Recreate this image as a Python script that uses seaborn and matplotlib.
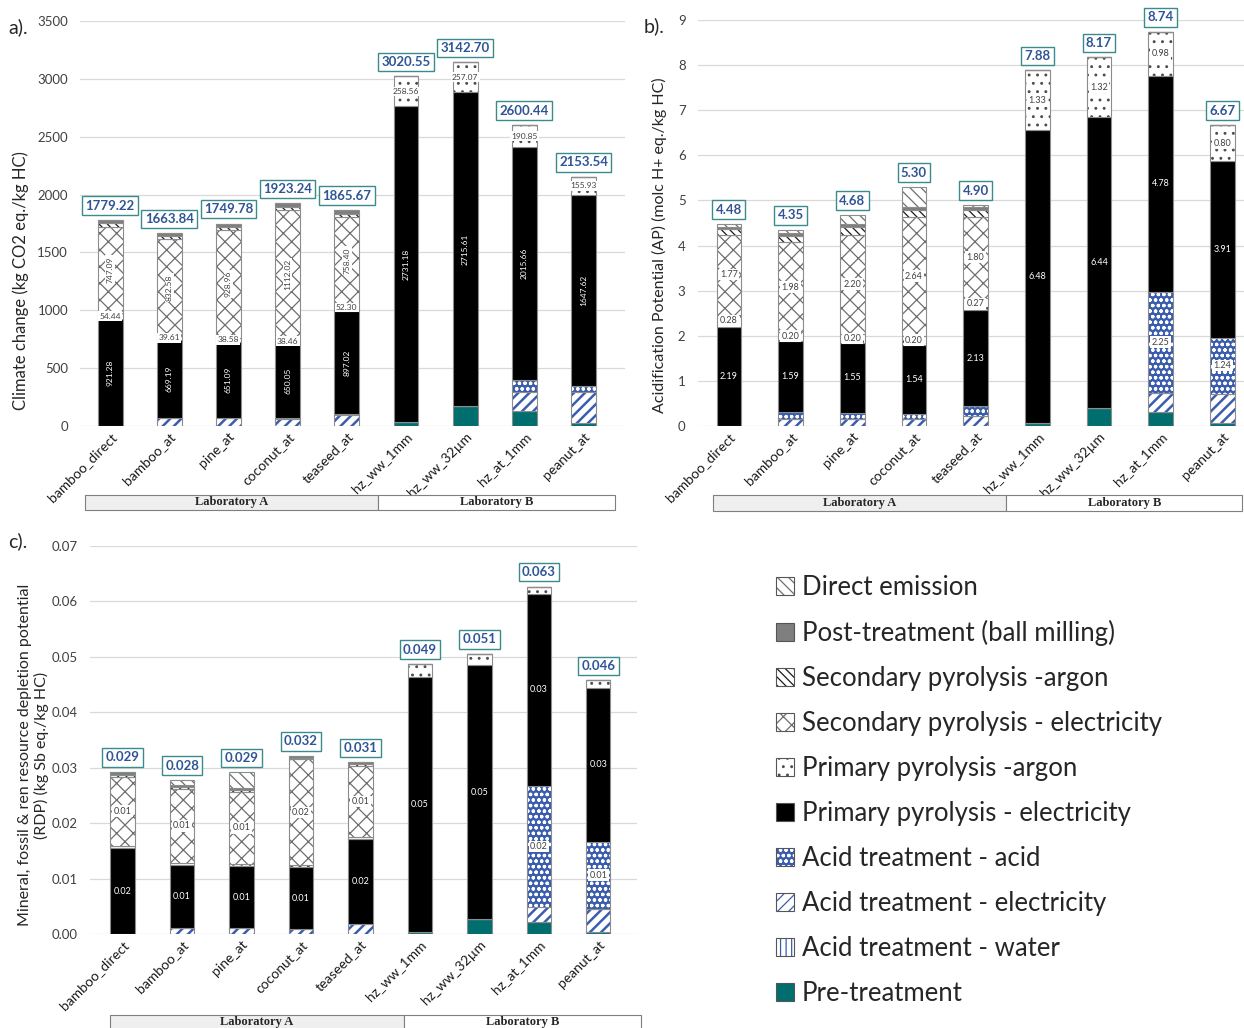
import numpy as np
import matplotlib
matplotlib.use("Agg")
import matplotlib.pyplot as plt
import matplotlib.transforms as mtransforms
from matplotlib.patches import Patch, Rectangle
import seaborn as sns

# ---------------------------------------------------------------- data
samples = ["bamboo_direct", "bamboo_at", "pine_at", "coconut_at", "teaseed_at",
           "hz_ww_1mm", "hz_ww_32µm", "hz_at_1mm", "peanut_at"]

# life-cycle stages, bottom of the stack first
stage_keys = ["pre", "water", "acid_elec", "acid", "prim_elec", "prim_argon",
              "sec_elec", "sec_argon", "post", "direct"]
stage_names = ["Pre-treatment", "Acid treatment - water", "Acid treatment - electricity",
               "Acid treatment - acid", "Primary pyrolysis - electricity",
               "Primary pyrolysis -argon", "Secondary pyrolysis - electricity",
               "Secondary pyrolysis -argon", "Post-treatment (ball milling)",
               "Direct emission"]

# a) climate change (kg CO2 eq./kg HC)
cc_pre        = [0, 0, 0, 0, 0, 30.81, 170.02, 132.00, 30.00]
cc_water      = [0, 0, 0, 0, 0, 0, 0, 0, 0]
cc_acid_elec  = [0, 68.00, 68.00, 60.00, 95.00, 0, 0, 166.00, 268.00]
cc_acid       = [0, 5.00, 5.00, 5.00, 5.00, 0, 0, 95.93, 51.99]
cc_prim_elec  = [921.28, 669.19, 651.09, 650.05, 897.02, 2731.18, 2715.61, 2015.66, 1647.62]
cc_prim_argon = [54.44, 39.61, 38.58, 38.46, 52.30, 258.56, 257.07, 190.85, 155.93]
cc_sec_elec   = [747.09, 832.58, 928.96, 1112.02, 758.40, 0, 0, 0, 0]
cc_sec_argon  = [30.00, 28.00, 30.00, 30.00, 25.00, 0, 0, 0, 0]
cc_post       = [26.41, 21.46, 28.15, 27.71, 32.95, 0, 0, 0, 0]
cc_direct     = [0, 0, 0, 0, 0, 0, 0, 0, 0]

# b) acidification potential (molc H+ eq./kg HC)
ap_pre        = [0, 0, 0, 0, 0, 0.07, 0.41, 0.32, 0.07]
ap_water      = [0, 0, 0, 0, 0, 0, 0, 0, 0]
ap_acid_elec  = [0, 0.15, 0.15, 0.15, 0.22, 0, 0, 0.41, 0.65]
ap_acid       = [0, 0.15, 0.14, 0.11, 0.22, 0, 0, 2.25, 1.24]
ap_prim_elec  = [2.19, 1.59, 1.55, 1.54, 2.13, 6.48, 6.44, 4.78, 3.91]
ap_prim_argon = [0.28, 0.20, 0.20, 0.20, 0.27, 1.33, 1.32, 0.98, 0.80]
ap_sec_elec   = [1.77, 1.98, 2.20, 2.64, 1.80, 0, 0, 0, 0]
ap_sec_argon  = [0.13, 0.14, 0.18, 0.15, 0.15, 0, 0, 0, 0]
ap_post       = [0.04, 0.06, 0.06, 0.06, 0.07, 0, 0, 0, 0]
ap_direct     = [0.07, 0.08, 0.20, 0.45, 0.04, 0, 0, 0, 0]

# c) mineral, fossil & renewable resource depletion (kg Sb eq./kg HC)
rdp_pre        = [0, 0, 0, 0, 0, 0.0003, 0.0027, 0.0021, 0.0003]
rdp_water      = [0, 0, 0, 0, 0, 0, 0, 0, 0]
rdp_acid_elec  = [0, 0.0010, 0.0010, 0.0009, 0.0018, 0, 0, 0.0027, 0.0043]
rdp_acid       = [0, 0, 0, 0, 0, 0, 0, 0.0220, 0.0120]
rdp_prim_elec  = [0.0155, 0.0115, 0.0113, 0.0112, 0.0153, 0.0461, 0.0458, 0.0345, 0.0278]
rdp_prim_argon = [0.0004, 0.0003, 0.0003, 0.0003, 0.0004, 0.0023, 0.0021, 0.0014, 0.0014]
rdp_sec_elec   = [0.0125, 0.0134, 0.0131, 0.0191, 0.0128, 0, 0, 0, 0]
rdp_sec_argon  = [0.0003, 0.0003, 0.0003, 0.0003, 0.0003, 0, 0, 0, 0]
rdp_post       = [0.0006, 0.0004, 0.0004, 0.0004, 0.0004, 0, 0, 0, 0]
rdp_direct     = [0, 0.0009, 0.0028, 0, 0, 0, 0, 0, 0]

lab_names = ["Laboratory A", "Laboratory B"]

cc = dict(zip(stage_keys, [cc_pre, cc_water, cc_acid_elec, cc_acid, cc_prim_elec,
                           cc_prim_argon, cc_sec_elec, cc_sec_argon, cc_post, cc_direct]))
ap = dict(zip(stage_keys, [ap_pre, ap_water, ap_acid_elec, ap_acid, ap_prim_elec,
                           ap_prim_argon, ap_sec_elec, ap_sec_argon, ap_post, ap_direct]))
rdp = dict(zip(stage_keys, [rdp_pre, rdp_water, rdp_acid_elec, rdp_acid, rdp_prim_elec,
                            rdp_prim_argon, rdp_sec_elec, rdp_sec_argon, rdp_post, rdp_direct]))

# ---------------------------------------------------------------- style
sns.set_style("whitegrid")
plt.rcParams["font.family"] = ["Lato", "DejaVu Sans"]
plt.rcParams["hatch.linewidth"] = 0.9

BLUE = "#3A5DAE"
TEAL = "#006E6F"
OUTLINE = "#8C8C8C"

styles = {
    "pre":        dict(face=TEAL, hatch=None, hcol=TEAL),
    "water":      dict(face="white", hatch="|||", hcol=BLUE),
    "acid_elec":  dict(face="white", hatch="///", hcol=BLUE),
    "acid":       dict(face=BLUE, hatch="ooo", hcol="white"),
    "prim_elec":  dict(face="black", hatch=None, hcol="black"),
    "prim_argon": dict(face="white", hatch="..", hcol="#4D4D4D"),
    "sec_elec":   dict(face="white", hatch="xx", hcol="#6E6E6E"),
    "sec_argon":  dict(face="white", hatch="\\\\\\\\", hcol="#1A1A1A"),
    "post":       dict(face="#7F7F7F", hatch=None, hcol="#7F7F7F"),
    "direct":     dict(face="white", hatch="\\\\\\", hcol="#6E6E6E"),
}


def stacked(ax, data, bar_width):
    bottom = np.zeros(len(samples))
    for key in stage_keys:
        vals = np.asarray(data[key], dtype=float)
        st = styles[key]
        sns.barplot(x=samples, y=vals, bottom=bottom, ax=ax, color=st["face"],
                    saturation=1, errorbar=None, width=bar_width,
                    edgecolor=st["hcol"], hatch=st["hatch"], linewidth=0)
        if key in ("acid_elec", "water"):
            for p in ax.containers[-1]:
                if hasattr(p, "set_hatch_linewidth"):
                    p.set_hatch_linewidth(1.8)
        sns.barplot(x=samples, y=vals, bottom=bottom, ax=ax, color=OUTLINE,
                    fill=False, errorbar=None, width=bar_width, linewidth=0.8)
        bottom = bottom + vals
    return bottom


def seg_labels(ax, data, rules, fmt, rot_keys=(), fs=6.5):
    bottom = np.zeros(len(samples))
    for key in stage_keys:
        vals = np.asarray(data[key], dtype=float)
        if key in rules:
            for i, v in enumerate(vals):
                if v > 0 and v >= rules[key]:
                    y = bottom[i] + v / 2
                    rot = 90 if key in rot_keys else 0
                    if key == "prim_elec":
                        ax.text(i, y, fmt.format(v), color="white", ha="center",
                                va="center", rotation=rot, fontsize=fs)
                    else:
                        ax.text(i, y, fmt.format(v), color="#404040", ha="center",
                                va="center", rotation=rot, fontsize=fs,
                                bbox=dict(boxstyle="square,pad=0.15", fc="white",
                                          ec="none"))
        bottom = bottom + vals


def totals(ax, tot, fmt):
    for i, t in enumerate(tot):
        ax.annotate(fmt.format(t), xy=(i, t), xytext=(0, 6), textcoords="offset points",
                    ha="center", va="bottom", fontsize=9.5, fontweight="bold",
                    color="#2F5597",
                    bbox=dict(boxstyle="square,pad=0.25", fc="white", ec="#3A8C8C",
                              lw=1.0))


def lab_boxes(ax, x0, xm, x1, y0, h):
    tr = mtransforms.blended_transform_factory(ax.transData, ax.transAxes)
    ax.add_patch(Rectangle((x0, y0), xm - x0, h, transform=tr, clip_on=False,
                           fc="#EFEFEF", ec="#7F7F7F", lw=0.8))
    ax.add_patch(Rectangle((xm, y0), x1 - xm, h, transform=tr, clip_on=False,
                           fc="white", ec="#7F7F7F", lw=0.8))
    for (a, b), name in zip([(x0, xm), (xm, x1)], lab_names):
        ax.text((a + b) / 2, y0 + h / 2, name, transform=tr, ha="center",
                va="center", fontsize=9, fontweight="bold",
                family="Liberation Serif")


def style_axes(ax, ylim, yticks, xlim, yfmt):
    ax.set_ylim(*ylim)
    ax.set_xlim(*xlim)
    ax.set_yticks(yticks)
    ax.set_yticklabels([yfmt.format(t) for t in yticks])
    ax.xaxis.grid(False)
    ax.yaxis.grid(True, color="#D9D9D9", lw=0.9)
    ax.set_axisbelow(True)
    for s in ax.spines.values():
        s.set_visible(False)
    ax.tick_params(axis="y", length=0, pad=9, labelsize=9.5, labelcolor="#404040")
    ax.tick_params(axis="x", length=0, pad=3, labelsize=10, labelcolor="#1A1A1A")
    for lab in ax.get_xticklabels():
        lab.set_rotation(45)
        lab.set_ha("right")
        lab.set_rotation_mode("anchor")
    ax.set_xlabel("")


fig = plt.figure(figsize=(12.44, 10.28), dpi=100)
ax_a = fig.add_axes([0.0647, 0.5856, 0.4377, 0.3940])
ax_b = fig.add_axes([0.5611, 0.5856, 0.4389, 0.3950])
ax_c = fig.add_axes([0.0723, 0.0914, 0.4397, 0.3774])

# a) climate change
tot_a = stacked(ax_a, cc, 0.42)
seg_labels(ax_a, cc, {"prim_elec": 0, "prim_argon": 0, "sec_elec": 0}, "{:.2f}",
           rot_keys=("prim_elec", "sec_elec"), fs=6)
totals(ax_a, tot_a, "{:.2f}")
style_axes(ax_a, (0, 3500), np.arange(0, 3501, 500), (-0.5, 8.7), "{:.0f}")
ax_a.set_ylabel("Climate change (kg CO2 eq./kg HC)", fontsize=12)
ax_a.yaxis.set_label_coords(-0.094, 0.36)
lab_boxes(ax_a, -0.42, 4.53, 8.53, -0.207, 0.037)

# b) acidification potential
tot_b = stacked(ax_b, ap, 0.40)
seg_labels(ax_b, ap, {"prim_elec": 0, "prim_argon": 0, "sec_elec": 0, "acid": 1.0},
           "{:.2f}", fs=6.5)
totals(ax_b, tot_b, "{:.2f}")
style_axes(ax_b, (0, 9), np.arange(0, 10, 1), (-0.5, 8.35), "{:.0f}")
ax_b.set_ylabel("Acidification Potential (AP) (molc H+ eq./kg HC)", fontsize=11.5)
ax_b.yaxis.set_label_coords(-0.057, 0.446)
lab_boxes(ax_b, -0.26, 4.50, 8.32, -0.209, 0.039)

# c) resource depletion
tot_c = stacked(ax_c, rdp, 0.41)
seg_labels(ax_c, rdp, {"prim_elec": 0, "sec_elec": 0, "acid": 0.005}, "{:.2f}", fs=6.5)
totals(ax_c, tot_c, "{:.3f}")
style_axes(ax_c, (0, 0.07), np.round(np.arange(0, 0.0701, 0.01), 2), (-0.55, 8.65),
           "{:.2f}")
ax_c.set_ylabel("Mineral, fossil & ren resource depletion potential\n"
                "(RDP) (kg Sb eq./kg HC)", fontsize=11.5, linespacing=1.15)
ax_c.yaxis.set_label_coords(-0.075, 0.461)
lab_boxes(ax_c, -0.22, 4.73, 8.72, -0.245, 0.037)

fig.text(8 / 1244, 1 - 27 / 1028, "a).", fontsize=14, va="center", ha="left")
fig.text(644 / 1244, 1 - 26 / 1028, "b).", fontsize=14, va="center", ha="left")
fig.text(8 / 1244, 1 - 541 / 1028, "c).", fontsize=14, va="center", ha="left")

# legend, top entry first
handles = []
for key in stage_keys[::-1]:
    st = styles[key]
    fill = Patch(facecolor=st["face"], edgecolor=st["hcol"], hatch=st["hatch"], lw=0)
    edge = Patch(facecolor="none", edgecolor="#555555", lw=0.8)
    handles.append((fill, edge))
fig.legend(handles, stage_names[::-1], loc="upper left",
           bbox_to_anchor=(776 / 1244, 1 - 575 / 1028), frameon=False,
           fontsize=18.5, handlelength=0.7, handleheight=0.7, handletextpad=0.3,
           labelspacing=0.78, borderpad=0, borderaxespad=0)

fig.savefig("out.png", dpi=100)
